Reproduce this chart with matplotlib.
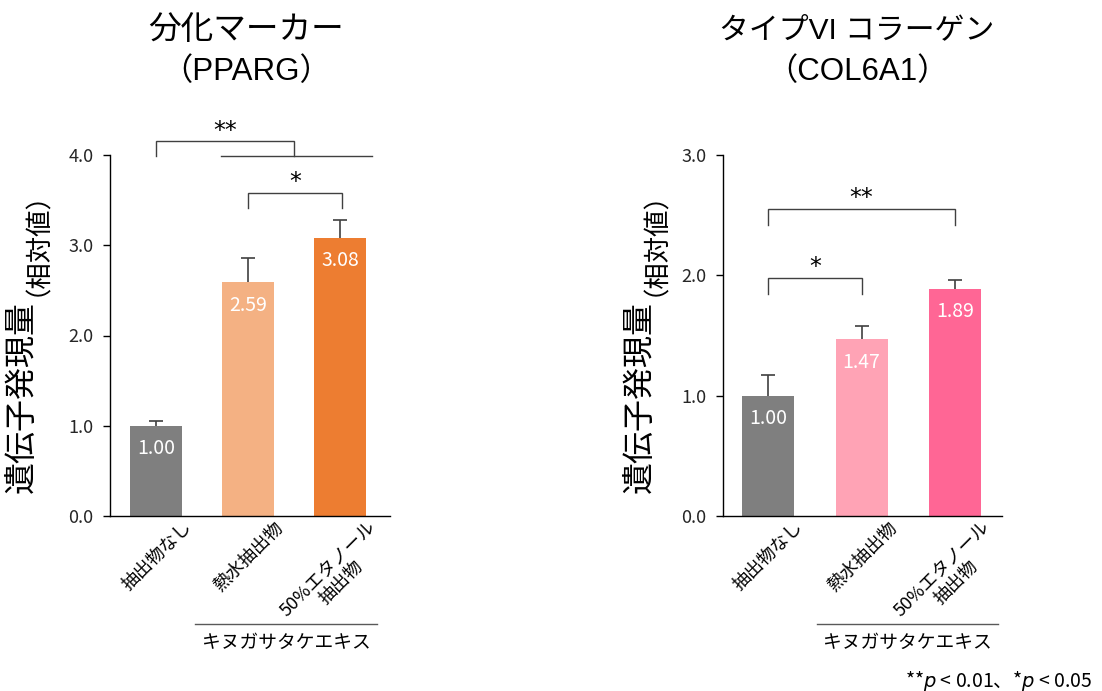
import matplotlib
matplotlib.use("Agg")
import matplotlib.pyplot as plt
from matplotlib.transforms import ScaledTranslation
import numpy as np

plt.rcParams['font.family'] = ['Noto Sans CJK JP', 'DejaVu Sans']

# data
groups = ["抽出物なし", "熱水抽出物", "50%エタノール\n抽出物"]
pparg = [1.00, 2.59, 3.08]
pparg_err = [0.05, 0.27, 0.20]
col6a1 = [1.00, 1.47, 1.89]
col6a1_err = [0.17, 0.11, 0.07]

pparg_colors = ["#7f7f7f", "#f4b183", "#ed7d31"]
col6a1_colors = ["#7f7f7f", "#ffa3b5", "#ff6695"]

title_font = ['Liberation Sans', 'Noto Sans CJK JP']

fig = plt.figure(figsize=(11.02, 6.91), dpi=100)
W, H = 1102, 691


def bracket(ax, x0, x1, y_top, y_bot, label, ty, color="#404040"):
    ax.plot([x0, x0, x1, x1], [y_bot, y_top, y_top, y_bot], color=color, lw=1.0,
            clip_on=False, solid_joinstyle="miter")
    ax.text((x0 + x1) / 2, ty, label, ha="center", va="center", fontsize=17,
            family="DejaVu Sans", clip_on=False)


def draw_panel(ax, vals, errs, colors, ymax, xlim, width):
    x = np.arange(len(vals))
    ax.bar(x, vals, width=width, color=colors, zorder=2)
    eb = ax.errorbar(x, vals, yerr=[np.zeros(len(errs)), errs], fmt="none",
                     ecolor="#404040", elinewidth=1.2, capsize=5, capthick=1.2,
                     zorder=3)
    eb[1][0].set_visible(False)
    for xi, v in zip(x, vals):
        ax.annotate(f"{v:.2f}", (xi, v), xytext=(0, -16.5), textcoords="offset points",
                    ha="center", va="center", color="white", fontsize=14)
    ax.set_xlim(*xlim)
    ax.set_ylim(0, ymax)
    ticks = np.arange(0, ymax + 0.01, 1.0)
    ax.set_yticks(ticks)
    ax.set_yticklabels([f"{t:.1f}" for t in ticks], fontsize=13, color="#262626")
    ax.tick_params(axis="y", direction="out", length=5, width=1, pad=7)
    ax.set_xticks(x)
    ax.set_xticklabels(groups, rotation=45, ha="right", va="top",
                       rotation_mode="anchor", fontsize=13, multialignment="center",
                       linespacing=1.05)
    ax.tick_params(axis="x", length=0, pad=1.5)
    off = ScaledTranslation(26 / 100, 0, fig.dpi_scale_trans)
    for lab in ax.get_xticklabels():
        lab.set_transform(lab.get_transform() + off)
    for s in ["top", "right"]:
        ax.spines[s].set_visible(False)
    for s in ["left", "bottom"]:
        ax.spines[s].set_linewidth(1.0)
        ax.spines[s].set_color("black")


# left panel
ax1 = fig.add_axes([110 / W, 175 / H, 280 / W, 361 / H])
draw_panel(ax1, pparg, pparg_err, pparg_colors, 4.0, (-0.5, 2.54), 0.565)
bracket(ax1, 0, 1.5, 4.155, 3.99, "**", 4.27)
ax1.plot([0.71, 2.35], [3.99, 3.99], color="#404040", lw=1.0, clip_on=False)
bracket(ax1, 1, 2.02, 3.58, 3.41, "*", 3.70)

# right panel
ax2 = fig.add_axes([723 / W, 175 / H, 279 / W, 361 / H])
draw_panel(ax2, col6a1, col6a1_err, col6a1_colors, 3.0, (-0.48, 2.50), 0.556)
bracket(ax2, 0, 2, 2.55, 2.42, "**", 2.64)
bracket(ax2, 0, 1, 1.98, 1.845, "*", 2.07)

# group line under extracts
for ax, xa, xb in [(ax1, 0.42, 2.40), (ax2, 0.52, 2.46)]:
    trans = ax.get_xaxis_transform()
    ax.plot([xa, xb], [-0.299, -0.299], color="#595959", lw=1.0, transform=trans,
            clip_on=False)
    ax.text((xa + xb) / 2, -0.35, "キヌガサタケエキス", transform=trans, ha="center",
            va="center", fontsize=13.5, clip_on=False)

# titles
fig.text(246 / W, 1 - 30 / H, "分化マーカー", ha="center", va="center", fontsize=23.5,
         family=title_font)
fig.text(246 / W, 1 - 72 / H, "（PPARG）", ha="center", va="center", fontsize=22.5,
         family=title_font)
fig.text(857 / W, 1 - 30 / H, "タイプVI コラーゲン", ha="center", va="center", fontsize=21.5,
         family=title_font)
fig.text(857 / W, 1 - 72 / H, "（COL6A1）", ha="center", va="center", fontsize=22.5,
         family=title_font)

# y labels
for xl in [22, 640]:
    fig.text(xl / W, 1 - 493 / H, "遺伝子発現量", rotation=90, ha="center", va="bottom",
             fontsize=23)
    fig.text((xl + 2) / W, 1 - 296 / H, "（相対値）", rotation=90, ha="center",
             va="bottom", fontsize=19)

fig.text(1092 / W, 1 - 681 / H, "**$p$ < 0.01、*$p$ < 0.05", ha="right", va="center",
         fontsize=14)

fig.savefig("out.png", dpi=100)
